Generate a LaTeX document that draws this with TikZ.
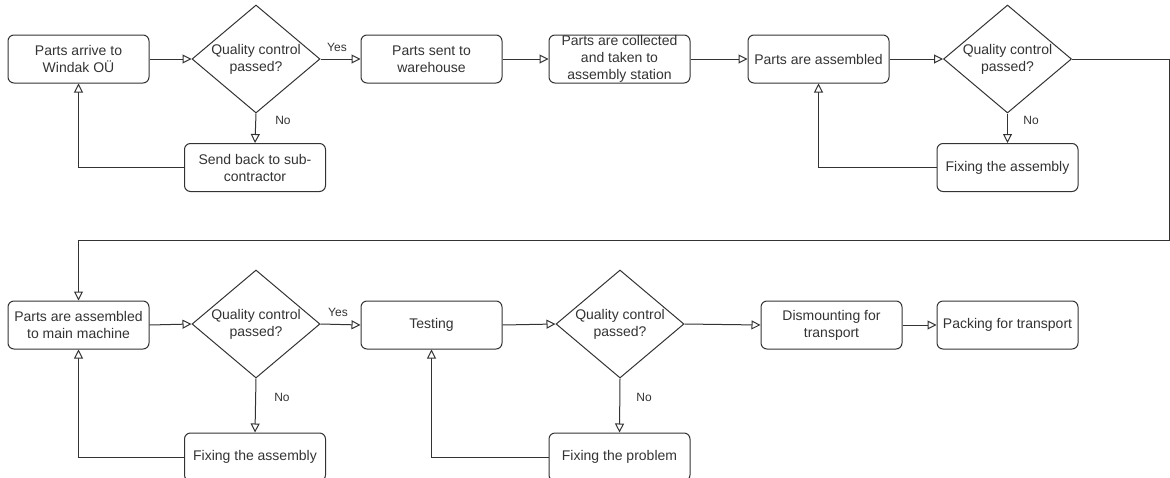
\documentclass[tikz,border=0pt]{standalone}
\usepackage{fontspec}
\setmainfont{Liberation Sans}
\usetikzlibrary{shapes.geometric,arrows.meta}
\definecolor{ink}{HTML}{333333}
\tikzset{
  x=1pt,y=-1pt,
  box/.style={draw=ink,line width=1pt,rounded corners=6pt,minimum width=141pt,minimum height=48pt,inner sep=0pt,align=center,text=ink,font=\fontsize{14}{17}\selectfont},
  dec/.style={draw=ink,line width=1pt,shape=diamond,aspect=1.185,minimum width=128pt,minimum height=108pt,inner sep=0pt,align=center,text=ink,font=\fontsize{14}{17}\selectfont},
  flow/.style={draw=ink,line width=1pt,-{Triangle[open,length=9pt,width=9pt,fill=white]}},
  lbl/.style={text=ink,font=\fontsize{12}{14}\selectfont,inner sep=0pt}
}
\begin{document}
\begin{tikzpicture}
\useasboundingbox (0,0) rectangle (1170,477);
\clip (0,0) rectangle (1170,477);
% row 1
\node[box] (b1) at (78.5,59) {Parts arrive to\\Windak OÜ};
\node[dec] (d1) at (256,59) {Quality control\\passed?};
\node[box] (b2) at (431.5,59) {Parts sent to\\warehouse};
\node[box] (b3) at (619.5,59) {Parts are collected\\and taken to\\assembly station};
\node[box] (b4) at (818.5,59) {Parts are assembled};
\node[dec] (d2) at (1007.5,59) {Quality control\\passed?};
\node[box] (sb) at (255,167.5) {Send back to sub-\\contractor};
\node[box] (fa1) at (1007.5,167.5) {Fixing the assembly};
% row 2
\node[box] (c1) at (78.5,325) {Parts are assembled\\to main machine};
\node[dec] (d3) at (256,324) {Quality control\\passed?};
\node[box] (tst) at (431.5,325) {Testing};
\node[dec] (d4) at (620,324) {Quality control\\passed?};
\node[box] (dm) at (831.5,325) {Dismounting for\\transport};
\node[box] (pk) at (1007.5,325) {Packing for transport};
\node[box] (fa2) at (255,457) {Fixing the assembly};
\node[box] (fp) at (619.5,457) {Fixing the problem};
% labels
\node[lbl] (y1) at (337,47) {Yes};
\node[lbl] (n1) at (283,120) {No};
\node[lbl] (n2) at (1031,120) {No};
\node[lbl] (y2) at (338,312) {Yes};
\node[lbl] (n3) at (282,397) {No};
\node[lbl] (n4) at (644,397) {No};
% connectors row 1
\draw[flow] (b1.east) -- (d1.west);
\draw[flow] (d1.east) -- (b2.west);
\draw[flow] (b2.east) -- (b3.west);
\draw[flow] (b3.east) -- (b4.west);
\draw[flow] (b4.east) -- (d2.west);
\draw[flow] (d1.south) -- (sb.north);
\draw[flow] (d2.south) -- (fa1.north);
\draw[flow] (sb.west) -| (b1.south);
\draw[flow] (fa1.west) -| (b4.south);
% long connector
\coordinate (r1) at (1169,59);
\coordinate (r2) at (1169,240);
\coordinate (r3) at (78.5,240);
\draw[flow] (d2.east) -- (r1) -- (r2) -- (r3) -- (c1.north);
% connectors row 2
\draw[flow] (c1.east) -- (d3.west);
\draw[flow] (d3.east) -- (tst.west);
\draw[flow] (tst.east) -- (d4.west);
\draw[flow] (d4.east) -- (dm.west);
\draw[flow] (dm.east) -- (pk.west);
\draw[flow] (d3.south) -- (fa2.north);
\draw[flow] (d4.south) -- (fp.north);
\draw[flow] (fa2.west) -| (c1.south);
\draw[flow] (fp.west) -| (tst.south);
\end{tikzpicture}
\end{document}
